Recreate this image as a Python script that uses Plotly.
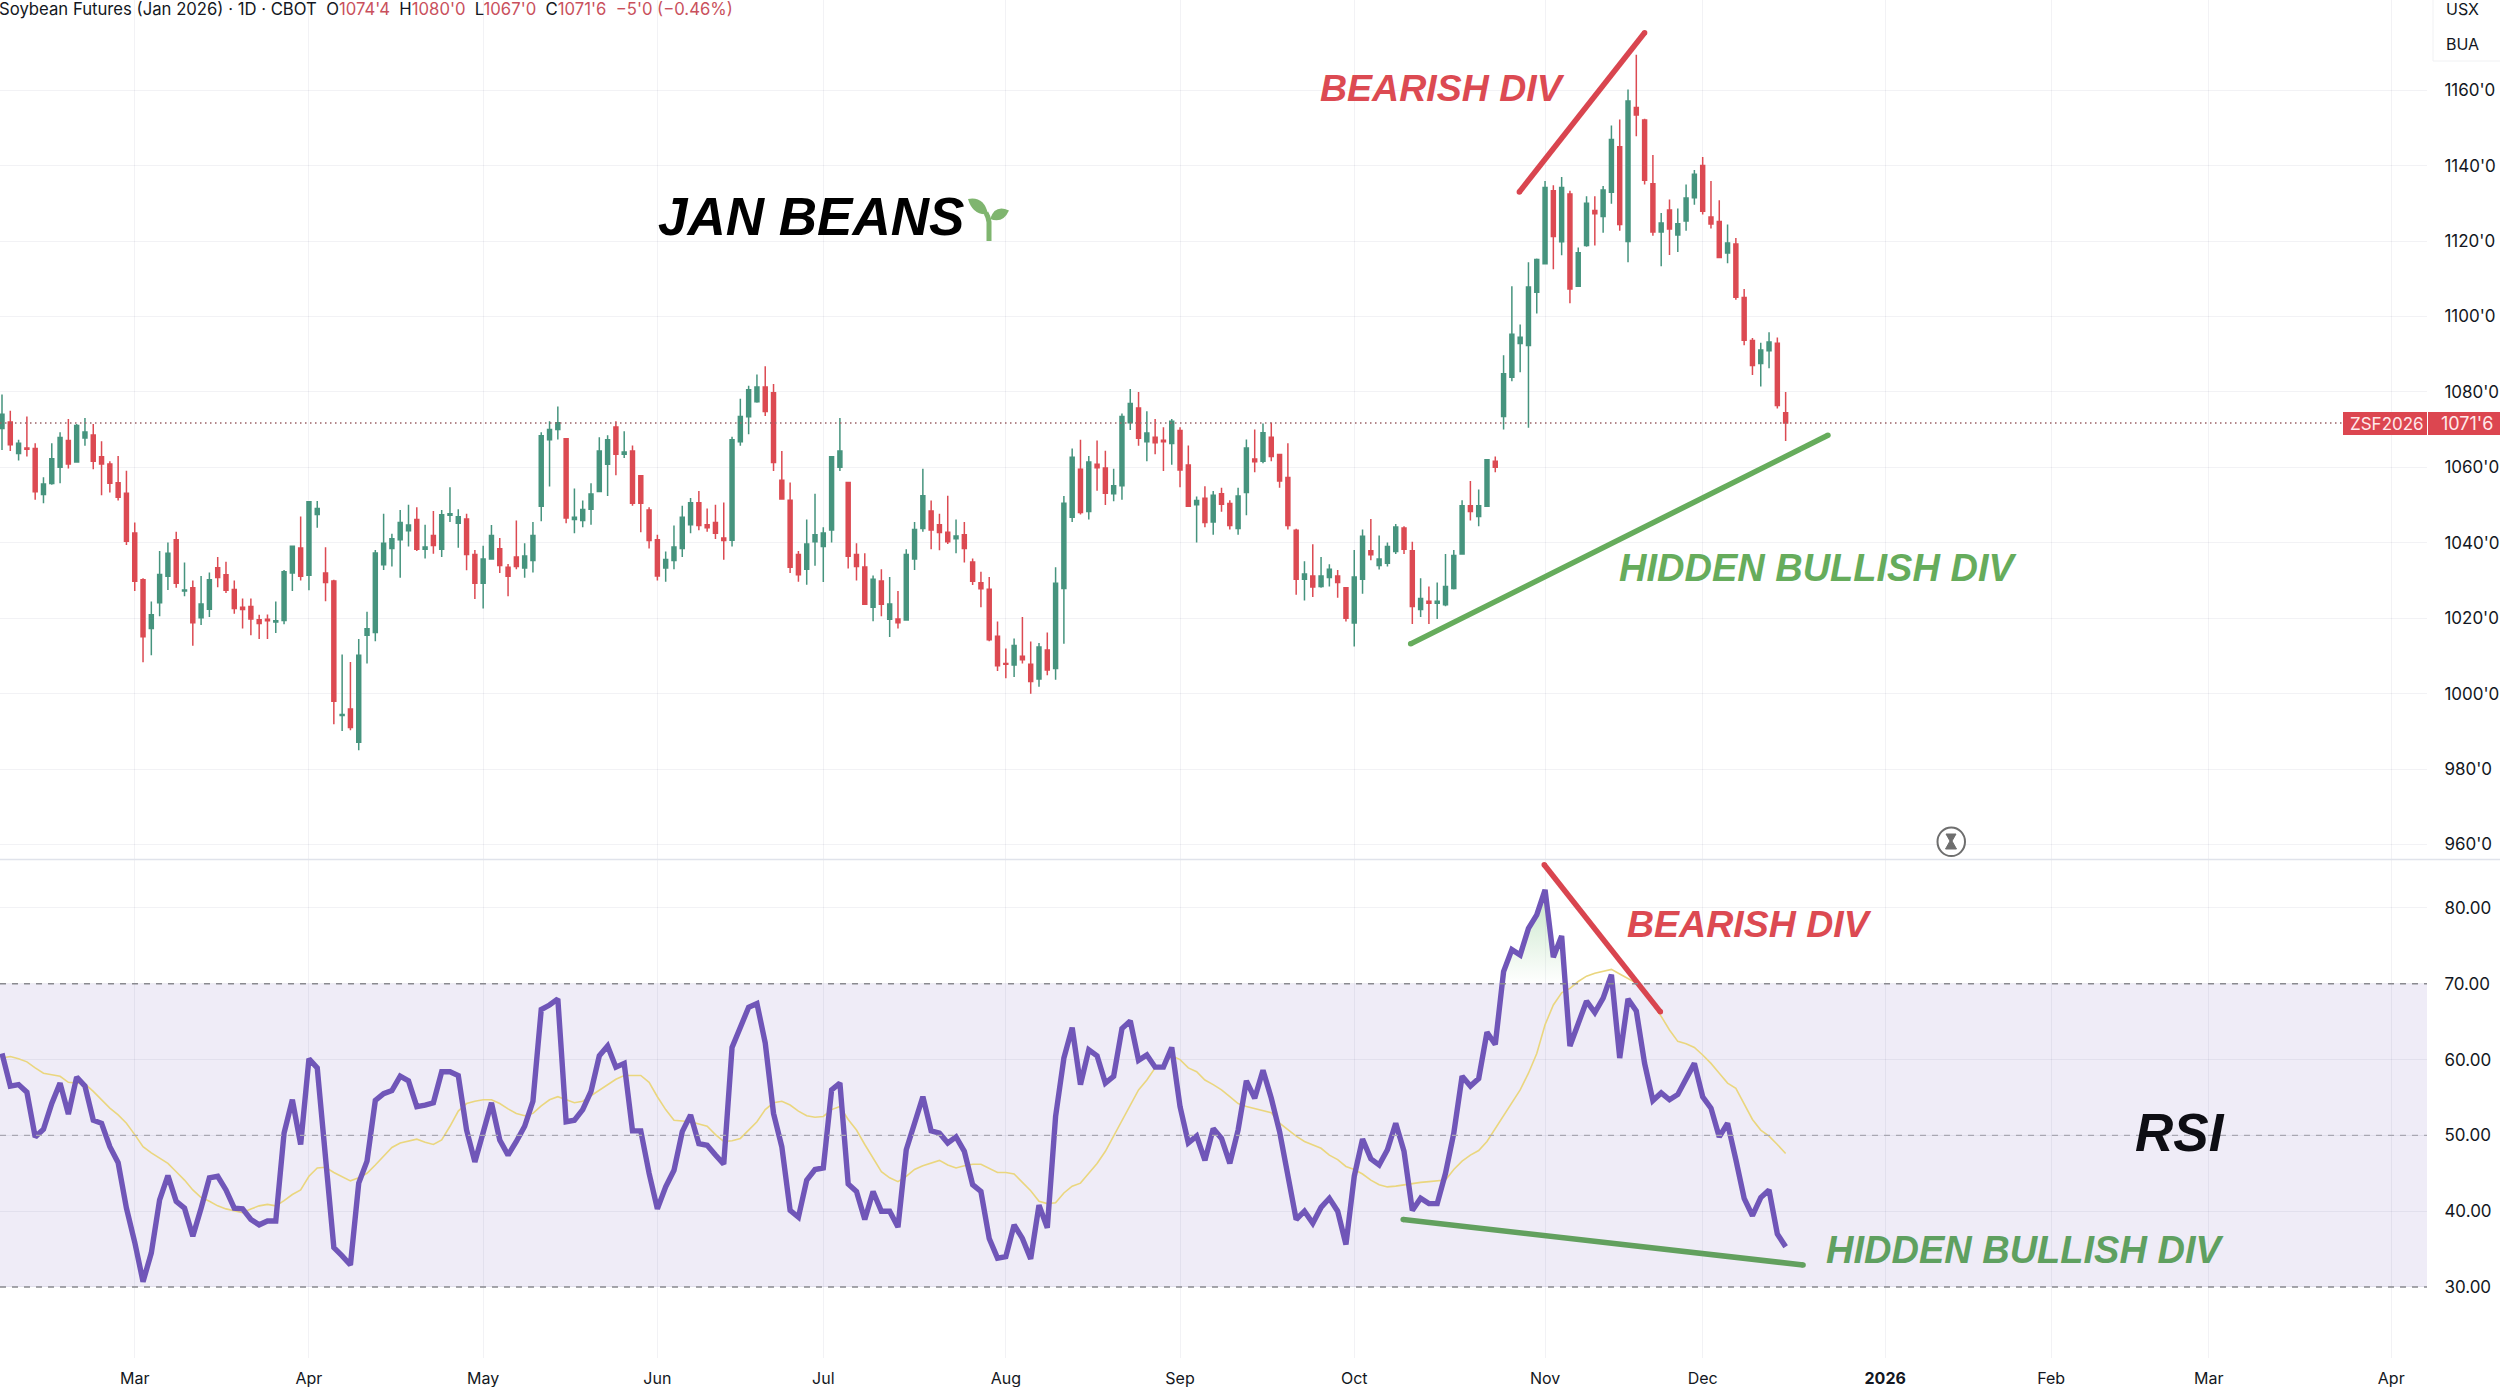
import plotly.graph_objects as go

# daily bars, one value per session
opens = [
    1070.3,1072,1063.7,1065.1,1065,1052.8,1055.7,1060,1067.1,1061.4,
    1067.8,1068.6,1062.8,1060.9,1055.9,1053.1,1042.6,1030.2,1017.3,1024.1,
    1031.1,1040.8,1027.2,1028.1,1020.1,1022.4,1033.4,1031.5,1027.6,1022.9,
    1023.1,1019.6,1019.7,1019,1019.4,1032,1038.6,1031.4,1047.5,1032,
    1029.9,994.2,995.9,987.1,1015.5,1016.2,1034.2,1038.5,1040.8,1043.2,
    1046.2,1038.3,1041.9,1038.3,1047.3,1045.2,1046.3,1036.9,1029.3,1035.7,
    1038.4,1033.5,1036.2,1033.3,1035.3,1049.7,1067.3,1070,1067.6,1046.2,
    1045.9,1048.9,1053.6,1060.8,1070.7,1063.5,1064.3,1057.8,1048.7,1040.8,
    1033.3,1035.3,1038.5,1044.8,1050.6,1044.8,1045.4,1041.3,1040.7,1066.8,
    1073.4,1077.4,1081.3,1079.8,1056.6,1051.3,1036.9,1033,1040.3,1039,
    1043.4,1060,1056,1036.9,1033.6,1022.9,1029.9,1019.7,1019.8,1019.5,
    1035.7,1043.8,1048.4,1044.8,1042.8,1041.1,1042.1,1034.9,1029.4,1027.7,
    1015.2,1008,1007.6,1009.9,1007.8,1003.9,1011.6,1006.7,1027.9,1046.8,
    1059.5,1048.3,1060.8,1059.8,1053,1055.1,1071.8,1075.7,1066.8,1068,
    1067.2,1066.3,1069.8,1060.6,1050.1,1051.8,1045.5,1053,1050.4,1043.8,
    1053.3,1062.2,1061.6,1068,1063.4,1057.3,1043.3,1030.3,1031.2,1028.4,
    1030.8,1031.2,1028.1,1018.7,1030.3,1037.9,1034,1034.6,1037.7,1043.9,
    1037.9,1022.3,1024.5,1024,1023.6,1027.9,1037,1049.8,1047,1049.7,
    1061.6,1073.5,1083.9,1092.8,1092.3,1106.4,1114,1133.3,1119.8,1132.5,
    1108,1118.8,1128.1,1126.5,1132.9,1145,1119.9,1155.4,1152.1,1135.2,
    1122.4,1128.2,1121.6,1125.3,1131.5,1140,1126.4,1125.2,1116.8,1119.2,
    1105,1093.6,1087.5,1090.9,1092.9,1074.5,
]
highs = [
    1079.3,1075,1067.3,1073.5,1066.4,1057.4,1066.4,1069.3,1072.8,1071.5,
    1073.1,1071.5,1066.9,1061.6,1063,1059.1,1045.4,1030.6,1024.4,1037.8,
    1040.1,1042.9,1034.8,1030,1031.2,1032.1,1036.2,1035,1030,1025.2,
    1025.2,1020.9,1021,1024.4,1032.8,1039.1,1047,1051,1051.1,1038.8,
    1030.2,1010.4,1008.4,1014.5,1021.7,1038.1,1047.7,1042.4,1048.7,1050.1,
    1049.4,1044.8,1048.4,1048.7,1054.7,1048.9,1047.7,1038.1,1039.2,1044.7,
    1041.3,1034.4,1045.9,1039.9,1045.5,1069.3,1072.2,1076.1,1067.8,1054.4,
    1051.2,1055.8,1068,1068.5,1072.2,1069.6,1065.8,1057.9,1049.4,1042.1,
    1037.7,1044.6,1049.8,1051.9,1053.7,1049.1,1050.1,1050.7,1068.1,1078.2,
    1081.6,1084.6,1086.8,1082.1,1064.3,1056,1037.8,1046.2,1053,1044.1,
    1062.9,1073.1,1056,1039.9,1037.2,1031.3,1033,1030.9,1027.2,1038.3,
    1045.5,1059.6,1051.2,1047.7,1052.5,1046.2,1045.5,1035.8,1032.3,1030.9,
    1019.1,1012,1014.6,1020.3,1013.8,1013.4,1016.2,1033.5,1052.4,1065,
    1067.3,1063,1067.1,1064.4,1059.6,1074.3,1080.8,1080,1074.9,1072.8,
    1070.6,1072.8,1070.6,1065.8,1052.3,1055,1053.7,1054.6,1051.3,1054.6,
    1067.4,1070,1071.6,1071.9,1063.6,1066.4,1043.7,1035.1,1039.6,1036.2,
    1034.3,1032.8,1028.1,1038.1,1043.5,1046.3,1041.9,1040.1,1045,1044.4,
    1040.3,1030.6,1028.4,1029.5,1037,1038.1,1051.3,1056.4,1054.1,1062.2,
    1062.9,1089.7,1108,1097.9,1114.4,1115.4,1135.9,1134.8,1137,1133.3,
    1118.3,1131.9,1131.9,1134.6,1150.6,1152.2,1160.2,1169.4,1152.4,1142.8,
    1127.4,1131,1128.6,1135,1138.8,1142.3,1135.9,1130.8,1124.4,1120.8,
    1107.3,1094.3,1093,1095.8,1094.4,1080,
]
lows = [
    1064.6,1064.3,1061.8,1062.9,1051.4,1050.5,1055.4,1055.8,1059.7,1061.4,
    1065.7,1059.5,1052.6,1053.3,1051.2,1039.4,1027.2,1008.3,1010.2,1020.5,
    1027.5,1028.1,1025.8,1012.7,1018.2,1020.3,1028.2,1026.7,1021.2,1017.3,
    1015.5,1014.5,1014.5,1016.1,1018.4,1027.2,1030,1027.4,1044,1024.5,
    991.9,990.1,990.3,985,1008,1013.9,1032.8,1033.7,1030.7,1039,
    1037.8,1035.8,1037.1,1036.2,1045.5,1038.7,1032.7,1025.1,1022.6,1035.7,
    1032,1025.8,1033,1030.7,1032.1,1045.7,1054.9,1067.4,1045.2,1042.5,
    1044.1,1044.8,1053.5,1052.4,1057.9,1062.5,1049.8,1042.8,1038.5,1030,
    1029.7,1033,1036.2,1042.5,1043.3,1042.9,1041,1035.5,1039,1065.7,
    1068.8,1077.1,1073.6,1059,1051.4,1032,1029.7,1028.9,1033.9,1029.6,
    1040.1,1059,1033.2,1030,1023.7,1019.2,1020.5,1015,1017.3,1019.4,
    1032.8,1042.9,1038.3,1038,1039.7,1037.2,1034.8,1028.8,1022.9,1013.9,
    1006,1004.1,1004.4,1008,1000,1001.8,1004.9,1003.7,1013.2,1045.5,
    1047.5,1046.2,1053.8,1050,1051,1051.4,1069.9,1065.7,1061.6,1063.5,
    1059,1060.7,1054.7,1049.6,1040.1,1044.1,1042.1,1048.2,1043.5,1042.1,
    1047.3,1058.7,1061.1,1061.6,1054.6,1043.5,1026.2,1024.7,1025.6,1028.1,
    1028.4,1025.4,1019.1,1012.5,1026.5,1035.4,1032.9,1033.7,1037,1037,
    1018.5,1020.3,1018.5,1019.8,1023.2,1027.6,1036.8,1045.9,1044.4,1049.5,
    1058.7,1070,1082.8,1085.2,1070.5,1100.8,1114,1112.5,1116.2,1103.5,
    1107.8,1118.5,1118.8,1122.2,1129.9,1122.7,1114.4,1147.8,1135,1121.4,
    1113.3,1116.3,1117.1,1122.7,1129.6,1127,1123.3,1115.5,1114.1,1104.4,
    1092.4,1084.5,1081.4,1086.3,1075.6,1067,
]
closes = [
    1074.1,1066,1066.4,1064.8,1053.5,1055.6,1062.3,1067.9,1060.9,1071.1,
    1069.4,1061.6,1060.9,1055.8,1052.1,1040.4,1029.8,1015.1,1020.9,1031.6,
    1037.2,1029.3,1027.5,1018.8,1023.8,1030.2,1030.8,1027.4,1022.6,1022.3,
    1019.8,1018.6,1019.3,1019.3,1032.3,1039.1,1031.1,1050.9,1049.1,1029.5,
    998,994.5,991,1010.2,1017.2,1037.3,1039.9,1041.1,1045.4,1044.7,
    1038.3,1038.9,1039.3,1047.4,1047.7,1046.9,1036.9,1029.3,1035.7,1041.9,
    1034,1031.1,1033.7,1036.5,1041.9,1068.4,1070,1071.8,1046.6,1046.8,
    1048.8,1052.9,1064.3,1067.3,1063.5,1064.1,1050.5,1050.5,1040.6,1031.2,
    1035.6,1038.9,1046.8,1050.6,1044.6,1044,1042.5,1040.6,1067.3,1073.5,
    1080.6,1081.3,1074.8,1061.3,1051.6,1033.5,1031.5,1039.7,1042.1,1042.6,
    1062.8,1064.3,1036.4,1033.7,1023.7,1030.3,1023.7,1023.8,1018.8,1036.9,
    1043.5,1052.5,1043.4,1042.7,1040.3,1041.8,1038.5,1029.8,1027.8,1014.3,
    1007.4,1007.8,1012.8,1009,1003.2,1012.4,1006.3,1029.3,1050.5,1062.7,
    1048,1061.4,1059.9,1053.1,1055.1,1073.5,1076.9,1067.7,1069.1,1066.5,
    1066.8,1072.2,1059.3,1049.7,1051.2,1045.4,1052.6,1050.2,1044.6,1052.4,
    1065.1,1061.5,1069.2,1062.9,1056.4,1044.6,1030.3,1031.7,1028.3,1031.2,
    1033,1029.5,1020,1030.9,1041.7,1036.8,1035.7,1039,1044.2,1038.3,
    1023.1,1025.2,1024,1024.5,1028.4,1036.6,1049.8,1048.3,1049.8,1062,
    1060,1084.8,1095.3,1094.5,1107.8,1115.1,1134.2,1121.2,1134.2,1107.3,
    1116.9,1130,1127.2,1133.5,1146.9,1124.4,1157.1,1153.4,1136.1,1122.4,
    1124.8,1123.2,1124.6,1131.4,1137.7,1127.9,1124.5,1115.6,1119.5,1105.1,
    1093.7,1087,1091.1,1093.2,1076.4,1071.75,
]

rsi = [
    60.8,56.5,56.7,55.7,49.8,50.8,54.2,56.9,52.8,57.7,
    56.5,52,51.6,48.5,46.4,40.4,35.9,30.7,34.5,41.5,
    44.7,41.3,40.4,36.7,40.4,44.4,44.6,42.8,40.4,40.3,
    38.9,38.2,38.7,38.7,50.3,54.7,48.8,60.1,58.9,46.8,
    35.2,34.1,32.9,43.7,46.6,54.6,55.5,55.9,57.8,57.2,
    53.8,54,54.3,58.4,58.4,57.9,50.7,46.5,50.3,54.3,
    49.4,47.4,49.2,51.2,54.5,66.6,67.2,68,51.8,52,
    53.4,55.8,60.5,61.8,59,59.5,50.6,50.6,45,40.3,
    43.2,45.4,50.5,52.7,48.9,48.7,47.4,46.2,61.6,64.1,
    66.9,67.4,62.2,52.9,48.5,40.1,39.2,44.1,45.5,45.7,
    56,56.9,43.6,42.6,38.9,42.6,40,40,37.9,48.1,
    51.4,55.1,50.6,50.3,49,49.8,47.9,43.5,42.6,36.4,
    33.8,34,38.2,36.4,33.7,40.8,37.8,52.5,60.2,64.2,
    56.7,61.3,60.5,56.9,57.8,64.1,65.1,59.9,60.6,59,
    59,61.6,53.8,49,49.9,46.7,50.9,49.6,46.3,50.7,
    57.2,54.9,58.6,54.9,50.5,44.6,38.9,40,38.4,40.5,
    41.7,40,35.6,44.6,49.5,46.9,46.1,48.1,51.6,47.9,
    40.1,41.7,41,41,45,50.3,57.8,56.5,57.5,63.6,
    62,71.6,74.5,73.8,77.3,79.1,82.4,73.5,76.3,61.8,
    64.8,67.7,66.2,68.1,71.2,60.2,68,66.4,59.5,54.6,
    55.6,54.7,55.4,57.5,59.5,55.1,53.6,49.8,51.6,46.8,
    41.7,39.4,41.8,42.8,37,35.3,
]
rsi_ma = [
    60.2,60.4,60.1,59.7,58.9,58.2,58,57.8,57,56.9,
    56.8,55.8,54.7,53.6,52.7,51.6,50.1,48.5,47.7,47,
    46.3,45.2,44.1,42.8,41.8,41.3,40.7,40.3,40,39.8,
    40.3,40.7,40.9,40.7,41.4,42.2,42.8,44.6,45.7,45.8,
    45.1,44.5,44,44.4,45,46.1,47.2,48.4,49,49.2,
    49.5,49.1,48.8,49.4,51.2,53.2,54.2,54.5,54.7,54.7,
    54.2,53.5,52.9,52.6,52.9,53.9,54.7,55.1,54.7,54.3,
    54.5,55.2,55.9,56.7,57.4,57.9,57.9,57.9,57,55.1,
    53.4,52,51.9,51.8,51.5,51.2,50.1,49.2,49.3,49.6,
    50.7,51.8,53.4,54.3,54.5,54,53.2,52.6,52.4,52.5,
    53.4,53.8,52.1,50.7,48.8,47,45.2,44.4,43.9,44.6,
    45.5,46,46.4,46.7,46.1,45.7,46,46.2,46.2,45.7,
    45.1,45.1,44.9,43.8,42.7,41.3,41,41.1,42.4,43.3,
    43.7,45,46.3,47.9,49.9,52,54,56,57.3,58.9,
    59.2,60.5,60,58.9,58.4,57.3,56.7,56,55.1,54.2,
    53.8,53.5,53.3,53,51.6,50.7,49.9,49.2,48.8,48.3,
    47.4,46.8,45.9,45.5,44.9,44.1,43.5,43.2,43.3,43.5,
    43.6,43.8,43.9,44,44.1,45.5,46.6,47.4,48,49.2,
    50.9,52.5,54.2,56,58.2,60.8,64.6,67.2,68.8,69.4,
    70.3,71,71.4,71.6,71.9,71.3,70.7,70.1,68.8,67.2,
    65.7,63.9,62.4,62.1,61.6,60.6,59.5,58.2,56.9,56.2,
    54.2,52.1,50.7,49.9,48.8,47.6,
]
bars = list(range(len(closes)))
assert len(opens) == len(highs) == len(lows) == len(closes) == len(rsi) == len(rsi_ma)

# x axis is bar number, months sit on their first session
month_bars = [16, 37, 58, 79, 99, 121, 142, 163, 186, 205, 227, 247, 266, 288]
month_labels = ["Mar", "Apr", "May", "Jun", "Jul", "Aug", "Sep", "Oct", "Nov", "Dec",
                "<b>2026</b>", "Feb", "Mar", "Apr"]
price_ticks = [960, 980, 1000, 1020, 1040, 1060, 1080, 1100, 1120, 1140, 1160]
price_labels = [f"{v}'0" for v in price_ticks]
rsi_ticks = [30, 40, 50, 60, 70, 80]
rsi_labels = [f"{v}.00" for v in rsi_ticks]

# hand drawn trend lines, bar number and value at both ends
bear_price_x, bear_price_y = [182.9, 198.0], [1133.0, 1175.2]
bull_price_x, bull_price_y = [169.8, 220.1], [1013.2, 1068.5]
bear_rsi_x, bear_rsi_y = [185.9, 199.9], [85.7, 66.3]
bull_rsi_x, bull_rsi_y = [168.9, 217.1], [38.9, 32.9]

last_close = closes[-1]

GREEN = "#46947E"
RED = "#DC4A52"
LINE_RED = "#D9454F"
LINE_GREEN = "#66AC5C"
PURPLE = "#7056B8"
GRID = "rgba(40,40,80,0.06)"
TEXT = "#131722"
SANS = "Inter, 'Noto Sans', sans-serif"
BOLD = "'Liberation Sans', Arial, sans-serif"

W, H = 2500, 1387
PLOT_W, PLOT_H = 2427, 1358
DIVIDER = 860
BAR0_PX, BAR_PX = 2.0, 8.296


def px(x):
    return x / PLOT_W


def py(y):
    return 1 - y / PLOT_H


fig = go.Figure()

fig.add_trace(go.Candlestick(
    x=bars, open=opens, high=highs, low=lows, close=closes,
    increasing=dict(line=dict(color=GREEN, width=1.5), fillcolor=GREEN),
    decreasing=dict(line=dict(color=RED, width=1.5), fillcolor=RED),
    whiskerwidth=0, xaxis="x", yaxis="y", hoverinfo="skip",
))

# part of the rsi above 70 gets the green wash
over = [i for i, v in enumerate(rsi) if v > 70 and 175 < i < 190]
first, last = over[0], over[-1]
x_in = first - (rsi[first] - 70) / (rsi[first] - rsi[first - 1])
x_out = last + (rsi[last] - 70) / (rsi[last] - rsi[last + 1])
fig.add_trace(go.Scatter(
    x=[x_in] + over + [x_out], y=[70] + [rsi[i] for i in over] + [70],
    xaxis="x", yaxis="y2", mode="lines", line=dict(width=0), fill="toself",
    fillgradient=dict(type="vertical", start=70, stop=82,
                      colorscale=[[0, "rgba(76,175,80,0)"], [1, "rgba(76,175,80,0.3)"]]),
    hoverinfo="skip",
))
fig.add_trace(go.Scatter(x=bars, y=rsi_ma, xaxis="x", yaxis="y2", mode="lines",
                         line=dict(color="#EAD67E", width=1.6), hoverinfo="skip"))
fig.add_trace(go.Scatter(x=bars, y=rsi, xaxis="x", yaxis="y2", mode="lines",
                         line=dict(color=PURPLE, width=5.4), hoverinfo="skip"))

for xs, ys, axis, color in [
    (bear_price_x, bear_price_y, "y", LINE_RED),
    (bull_price_x, bull_price_y, "y", LINE_GREEN),
    (bear_rsi_x, bear_rsi_y, "y2", LINE_RED),
    (bull_rsi_x, bull_rsi_y, "y2", "#62A05E"),
]:
    fig.add_trace(go.Scatter(x=xs, y=ys, xaxis="x", yaxis=axis, mode="lines+markers",
                             line=dict(color=color, width=5.5),
                             marker=dict(color=color, size=5.5), hoverinfo="skip"))

shapes = [
    # rsi band and levels
    dict(type="rect", xref="paper", yref="y2", x0=0, x1=1, y0=30, y1=70,
         fillcolor="#EFECF7", line=dict(width=0), layer="below"),
    dict(type="line", xref="paper", yref="y2", x0=0, x1=1, y0=70, y1=70,
         line=dict(color="#8A8A90", width=1.5, dash="6px 6px")),
    dict(type="line", xref="paper", yref="y2", x0=0, x1=1, y0=50, y1=50,
         line=dict(color="#A9A7B2", width=1.2, dash="6px 6px")),
    dict(type="line", xref="paper", yref="y2", x0=0, x1=1, y0=30, y1=30,
         line=dict(color="#8A8A90", width=1.5, dash="6px 6px")),
    # pane divider
    dict(type="line", xref="paper", yref="paper", x0=0, x1=W / PLOT_W,
         y0=py(DIVIDER - 0.5), y1=py(DIVIDER - 0.5), line=dict(color="#E0E3EB", width=1.5)),
    # last price line and its tags
    dict(type="line", xref="paper", yref="y", x0=0, x1=px(2343), y0=last_close, y1=last_close,
         line=dict(color="#9A6066", width=1.5, dash="1.5px 3.5px")),
    dict(type="rect", xref="paper", yref="paper", x0=px(2343), x1=px(2427), y0=py(435), y1=py(412),
         fillcolor="#DC4650", line=dict(width=0)),
    dict(type="rect", xref="paper", yref="paper", x0=px(2428), x1=px(2500), y0=py(435), y1=py(412),
         fillcolor="#DC4650", line=dict(width=0)),
    # corner of the currency box
    dict(type="path", xref="paper", yref="paper",
         path=f"M {px(2433)} {py(0)} L {px(2433)} {py(61)} L {px(2500)} {py(61)}",
         line=dict(color="#F0F1F3", width=1)),
    # countdown icon
    dict(type="circle", xref="paper", yref="paper", x0=px(1937.5), x1=px(1965),
         y0=py(856), y1=py(827.5), fillcolor="white", line=dict(color="#6E6E6E", width=2)),
    dict(type="path", xref="paper", yref="paper",
         path=(f"M {px(1946)} {py(834)} L {px(1956)} {py(834)} L {px(1952)} {py(841)} "
               f"L {px(1956.5)} {py(849)} L {px(1945.5)} {py(849)} L {px(1950)} {py(841)} Z"),
         fillcolor="#6E6E6E", line=dict(color="#6E6E6E", width=1)),
    # seedling next to the title
    dict(type="path", xref="paper", yref="paper",
         path=f"M {px(989)} {py(241)} L {px(989)} {py(222)} Q {px(988)} {py(216)} {px(986)} {py(213)}",
         line=dict(color="#7FB56F", width=5)),
    dict(type="path", xref="paper", yref="paper",
         path=(f"M {px(968)} {py(199)} Q {px(984)} {py(196)} {px(988)} {py(214)} "
               f"Q {px(973)} {py(216)} {px(968)} {py(199)} Z"),
         fillcolor="#7FB56F", line=dict(width=0)),
    dict(type="path", xref="paper", yref="paper",
         path=(f"M {px(1009)} {py(210.5)} Q {px(995)} {py(204)} {px(990)} {py(219)} "
               f"Q {px(1003)} {py(224)} {px(1009)} {py(210.5)} Z"),
         fillcolor="#7FB56F", line=dict(width=0)),
]


def note(text, x, y, size, color, family=SANS, anchor="left"):
    return dict(text=text, xref="paper", yref="paper", x=px(x), y=py(y), xanchor=anchor,
                yanchor="middle", showarrow=False, borderpad=0,
                font=dict(family=family, size=size, color=color))


red_txt = "#C9505C"
header = (
    "Soybean Futures (Jan 2026) · 1D · CBOT  O"
    f"<span style='color:{red_txt}'>1074'4</span>  H"
    f"<span style='color:{red_txt}'>1080'0</span>  L"
    f"<span style='color:{red_txt}'>1067'0</span>  C"
    f"<span style='color:{red_txt}'>1071'6  −5'0 (−0.46%)</span>"
)

annotations = [
    note(header, -2, 9, 16.7, TEXT),
    note("USX", 2445, 9, 16, TEXT),
    note("BUA", 2445, 44, 16, TEXT),
    note("ZSF2026", 2349, 423.5, 17, "#FFE9EA"),
    note("1071'6", 2440, 423.5, 18, "#FFE9EA"),
    note("<b><i>JAN BEANS</i></b>", 657, 217, 53, "#000000", BOLD),
    note("<b><i>RSI</i></b>", 2134, 1132, 53, "#0E0E14", BOLD),
    note("<b><i>BEARISH DIV</i></b>", 1319, 88, 37.5, RED, BOLD),
    note("<b><i>BEARISH DIV</i></b>", 1626, 924, 37.5, RED, BOLD),
    note("<b><i>HIDDEN BULLISH DIV</i></b>", 1618, 568, 38, LINE_GREEN, BOLD),
    note("<b><i>HIDDEN BULLISH DIV</i></b>", 1825, 1250, 38, "#5FA060", BOLD),
]

y_axis_style = dict(
    side="right", anchor="x", showgrid=True, gridcolor=GRID, gridwidth=1, zeroline=False,
    ticks="outside", ticklen=13, tickcolor="rgba(0,0,0,0)", showline=False, automargin=False,
    tickfont=dict(family=SANS, size=17, color=TEXT),
)

fig.update_layout(
    width=W, height=H, autosize=False,
    margin=dict(l=0, r=W - PLOT_W, t=0, b=H - PLOT_H, pad=0),
    paper_bgcolor="white", plot_bgcolor="white",
    showlegend=False, boxgap=0.32, hovermode=False,
    xaxis=dict(
        anchor="y2", domain=[0, 1], range=[-BAR0_PX / BAR_PX, (PLOT_W - BAR0_PX) / BAR_PX],
        tickmode="array", tickvals=month_bars, ticktext=month_labels, tickangle=0,
        showgrid=True, gridcolor=GRID, gridwidth=1, zeroline=False, showline=False,
        automargin=False, ticks="outside", ticklen=6, tickcolor="rgba(0,0,0,0)",
        tickfont=dict(family=SANS, size=16, color=TEXT),
        rangeslider=dict(visible=False),
    ),
    yaxis=dict(
        domain=[1 - DIVIDER / PLOT_H, 1], range=[955.9, 1183.9],
        tickmode="array", tickvals=price_ticks, ticktext=price_labels, **y_axis_style,
    ),
    yaxis2=dict(
        domain=[0, 1 - DIVIDER / PLOT_H], range=[20.63, 86.33],
        tickmode="array", tickvals=rsi_ticks, ticktext=rsi_labels, **y_axis_style,
    ),
    shapes=shapes,
    annotations=annotations,
)

fig.write_html("out.html", config={"displayModeBar": False},
               post_script=("document.documentElement.style.overflow='hidden';"
                            "document.body.style.margin='0';"
                            "document.body.style.overflow='hidden';"
                            "document.body.style.height='1387px';"))
